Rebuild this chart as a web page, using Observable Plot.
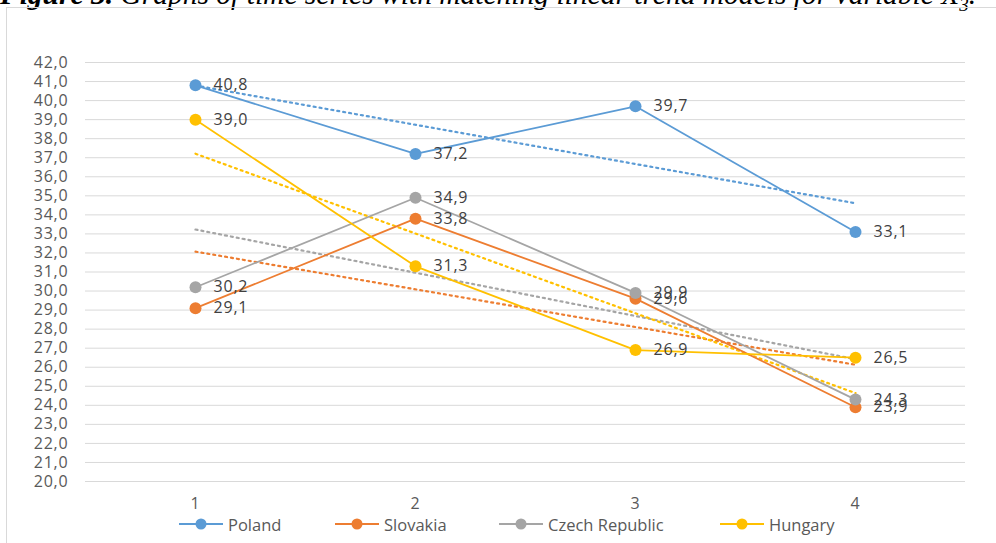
<!DOCTYPE html>
<html>
<head>
<meta charset="utf-8">
<script src="https://cdn.jsdelivr.net/npm/d3@7"></script>
<script src="https://cdn.jsdelivr.net/npm/@observablehq/plot@0.6"></script>
<style>
  html, body { margin: 0; padding: 0; background: #fff; overflow: hidden; }
  #wrap { position: relative; width: 996px; height: 543px; overflow: hidden; }
  #caption { position: absolute; left: 0px; top: -21px; white-space: nowrap; line-height: 30px;
    font-family: "Liberation Serif", "Times New Roman", serif; font-size: 29.5px; font-style: italic; color: #000; }
  #caption b { font-weight: bold; }
  #box { position: absolute; left: 6px; top: 7px; width: 1100px; height: 600px;
    border: 1px solid #d9d9d9; box-sizing: border-box; }
  #chart { position: absolute; left: 0; top: 0; }
  #chart svg text { letter-spacing: 0.8px; }
  #legend { position: absolute; top: 514px; left: 0; width: 996px; height: 20px;
    font-family: "Open Sans", sans-serif; font-size: 16.5px; color: #595959; }
  .item { position: absolute; top: 0; display: flex; align-items: center; height: 20px; }
  .item svg { margin-right: 5px; }
</style>
</head>
<body>
<div id="wrap">
  <div id="caption"><b>Figure 3.</b> Graphs of time series with matching linear trend models for variable X<sub style="font-size:19px">3</sub>.</div>
  <div id="box"></div>
  <div id="chart"></div>
  <div id="legend"></div>
</div>
<script>
const periods = [1, 2, 3, 4];
const seriesNames = ["Poland", "Slovakia", "Czech Republic", "Hungary"];
const poland = [40.8, 37.2, 39.7, 33.1];
const slovakia = [29.1, 33.8, 29.6, 23.9];
const czech = [30.2, 34.9, 29.9, 24.3];
const hungary = [39.0, 31.3, 26.9, 26.5];
const colors = ["#5B9BD5", "#ED7D31", "#A5A5A5", "#FFC000"];
const yTicks = d3.range(20, 43, 1);

const valuesBySeries = [poland, slovakia, czech, hungary];
const data = [];
seriesNames.forEach((s, i) => {
  periods.forEach((p, j) => data.push({series: s, period: p, value: valuesBySeries[i][j]}));
});
const fmt = v => v.toFixed(1).replace(".", ",");

const chart = Plot.plot({
  width: 996,
  height: 543,
  marginLeft: 85,
  marginRight: 31,
  marginTop: 62,
  marginBottom: 62,
  style: { fontFamily: "Open Sans, sans-serif", background: "transparent", overflow: "visible" },
  x: { domain: [0.5, 4.5], axis: null },
  y: { domain: [20, 42], axis: null },
  color: { domain: seriesNames, range: colors },
  marks: [
    Plot.gridY(yTicks, { stroke: "#d9d9d9", strokeOpacity: 1, strokeWidth: 1 }),
    Plot.axisY({ ticks: yTicks, tickFormat: fmt, tickSize: 0, tickPadding: 17,
      fontSize: 16, fill: "#595959", label: null }),
    Plot.axisX({ ticks: periods, tickFormat: d => String(d), tickSize: 0, tickPadding: 16,
      fontSize: 16, fill: "#595959", label: null }),
    Plot.linearRegressionY(data, { x: "period", y: "value", z: "series", stroke: "series", ci: 0,
      strokeWidth: 2.2, strokeDasharray: "2,4", strokeLinecap: "round" }),
    Plot.line(data, { x: "period", y: "value", z: "series", stroke: "series", strokeWidth: 1.8 }),
    Plot.dot(data, { x: "period", y: "value", fill: "series", r: 6 }),
    Plot.text(data, { x: "period", y: "value", text: d => fmt(d.value), dx: 18, textAnchor: "start",
      fill: "#404040", fontSize: 16 })
  ]
});
document.getElementById("chart").appendChild(chart);

const legendPos = [179, 335, 499, 720];
const legend = document.getElementById("legend");
seriesNames.forEach((s, i) => {
  const it = document.createElement("div");
  it.className = "item";
  it.style.left = legendPos[i] + "px";
  it.innerHTML = `<svg width="44" height="14"><line x1="0" y1="7" x2="44" y2="7" stroke="${colors[i]}" stroke-width="2"/><circle cx="22" cy="7" r="5.5" fill="${colors[i]}"/></svg><span>${s}</span>`;
  legend.appendChild(it);
});
</script>
</body>
</html>
